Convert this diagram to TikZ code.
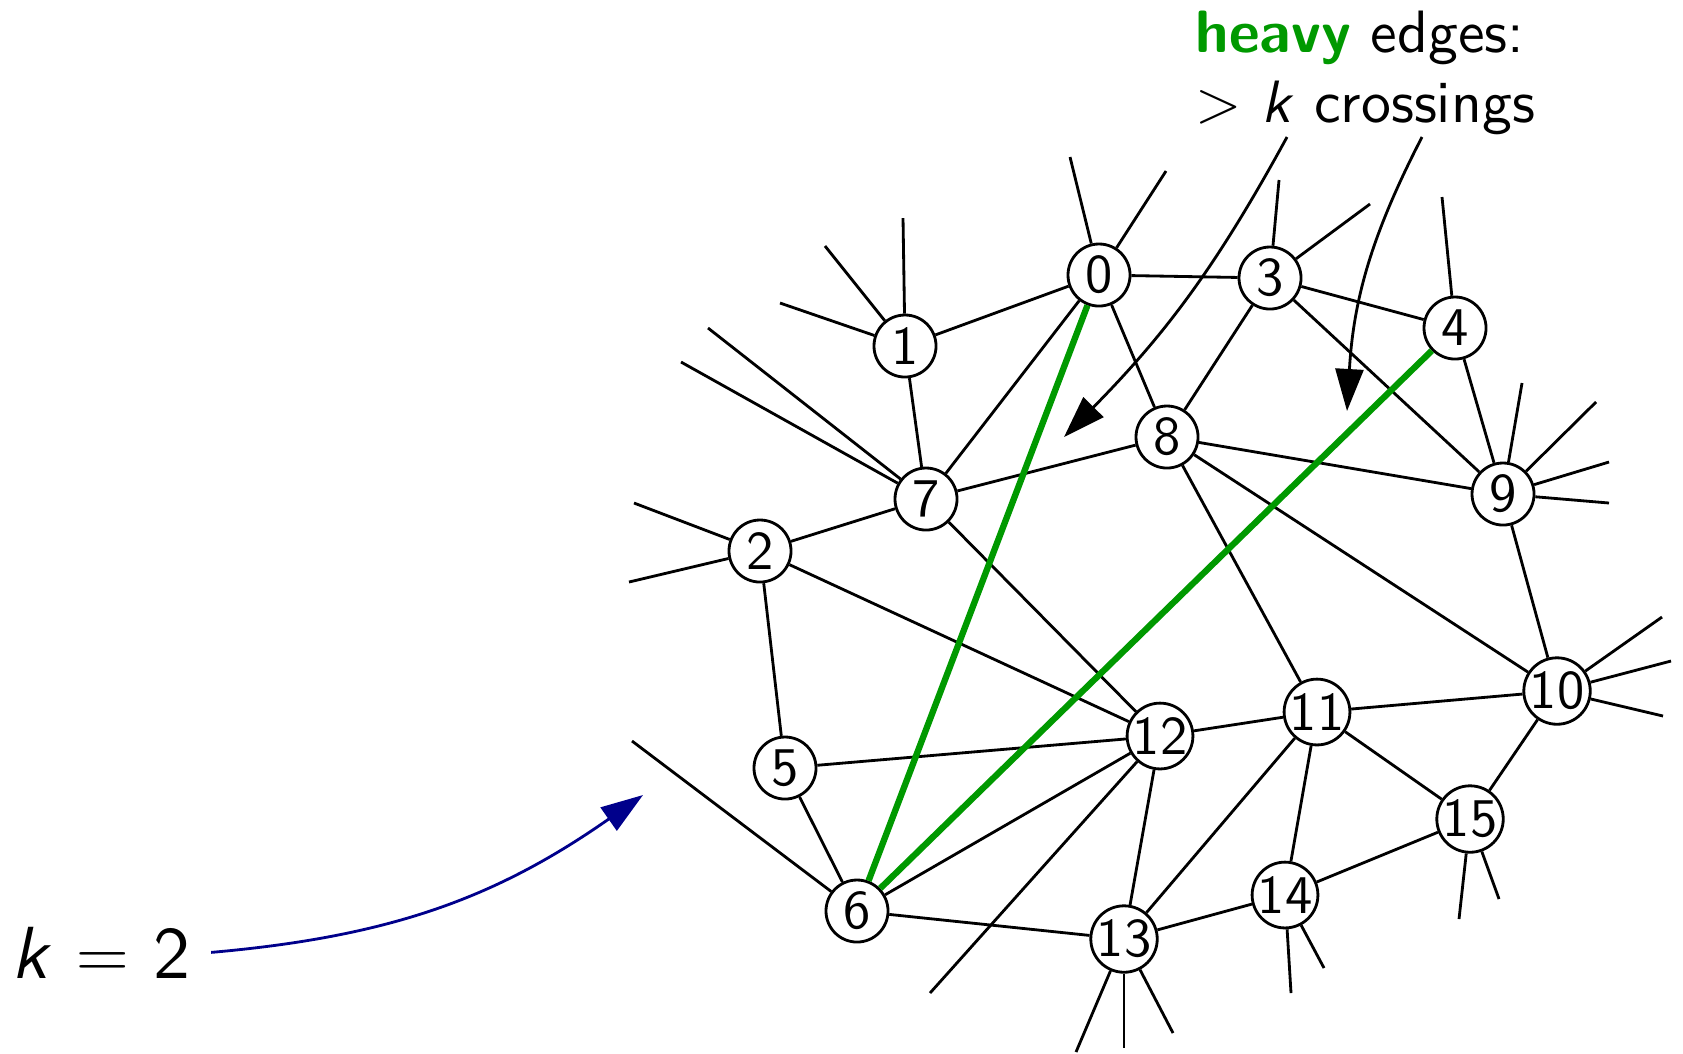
\documentclass[tikz,border=0pt]{standalone}
\usepackage{amsmath}
\usepackage{fontspec}
\newfontfamily\tensans{lmsans10-regular.otf}[BoldFont=lmsans10-bold.otf,ItalicFont=lmsans10-oblique.otf]
\usetikzlibrary{arrows.meta}
\definecolor{heavygreen}{RGB}{0,153,0}
\definecolor{kblue}{RGB}{0,0,139}
\tikzset{
  vtx/.style={circle,draw,fill=white,line width=0.8pt,minimum size=0.62cm,inner sep=0pt,
              font=\tensans\fontsize{15.5}{15.5}\selectfont},
  edge/.style={line width=0.8pt},
  heavy/.style={heavygreen,line width=1.8pt},
  arr/.style={-{Triangle[length=4.2mm,width=2.8mm]},line width=0.8pt}
}
\begin{document}
\begin{tikzpicture}[x=0.01cm,y=-0.01cm]
  \useasboundingbox (0,0) rectangle (1683,1053);
  \foreach \n/\x/\y in {0/1099/275,1/905/346,2/760/551,3/1270/278,4/1455/328,5/785/768,
                        6/857/911,7/926/499,8/1167/437,9/1503/494,10/1557/691,11/1317/712,
                        12/1160/736,13/1124/939,14/1285/895,15/1470/819}
    \node[vtx] (v\n) at (\x,\y) {\n};
  \foreach \a/\b in {0/1,0/3,0/7,0/8,1/7,2/7,2/5,2/12,3/4,3/8,3/9,4/9,5/12,5/6,6/12,6/13,
                     7/8,7/12,8/9,8/11,8/10,9/10,10/11,10/15,11/12,11/13,11/14,11/15,
                     12/13,13/14,14/15}
    \draw[edge] (v\a) -- (v\b);
  \foreach \n/\x/\y [count=\i] in {0/1070/157,0/1166/171,1/903/218,1/825/246,1/780/303,
                     7/708/328,7/681/362,2/634/503,2/629/582,3/1279/180,3/1370/204,
                     4/1442/197,9/1522/383,9/1596/402,9/1609/462,9/1609/503,10/1662/617,
                     10/1671/661,10/1663/716,15/1459/919,15/1499/899,14/1291/993,
                     14/1324/968,13/1076/1052,13/1124/1048,13/1173/1033,12/930/993,6/632/741}
  {
    \coordinate (s\i) at (\x,\y);
    \draw[edge] (v\n) -- (s\i);
  }
  \draw[heavy] (v0) -- (v6);
  \draw[heavy] (v4) -- (v6);
  \node[anchor=north west,inner sep=0pt,align=left,font=\tensans\fontsize{17}{20}\selectfont]
    (htxt) at (1195,10) {\textcolor{heavygreen}{\bfseries heavy} edges:\\ $>$ \textit{k} crossings};
  \node[anchor=base west,inner xsep=0.2cm,inner ysep=0pt,font=\tensans\fontsize{21}{25}\selectfont]
    (ktxt) at (-9,978) {\textit{k} $=$ 2};
  \coordinate (a1s) at (1287,137);
  \coordinate (a1t) at (1064,437);
  \coordinate (a2s) at (1422,137);
  \coordinate (a2t) at (1347,411);
  \coordinate (ktip) at (643,795);
  \draw[arr] (a1s) to[bend left=8] (a1t);
  \draw[arr] (a2s) to[bend right=12] (a2t);
  \draw[arr,kblue] (ktxt.east) to[bend right=15] (ktip);
\end{tikzpicture}
\end{document}
